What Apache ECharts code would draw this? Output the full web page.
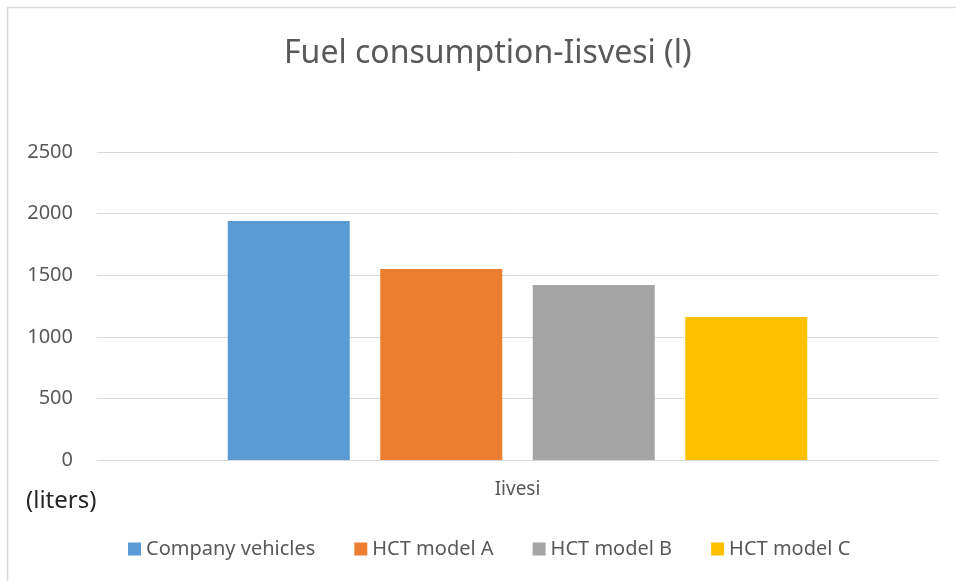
<!DOCTYPE html>
<html>
<head>
<meta charset="utf-8">
<script src="https://cdn.jsdelivr.net/npm/echarts@6/dist/echarts.min.js"></script>
<style>
  html, body { margin: 0; padding: 0; background: #fff; }
  #chart { width: 956px; height: 581px; }
</style>
</head>
<body>
<div id="chart"></div>
<script>
// data
const categories = ['Iivesi'];
const seriesNames = ['Company vehicles', 'HCT model A', 'HCT model B', 'HCT model C'];
const seriesValues = [1940, 1550, 1420, 1160];
const colors = ['#5b9bd5', '#ed7d31', '#a5a5a5', '#ffc000'];

const chart = echarts.init(document.getElementById('chart'));
const font = 'Noto Sans, sans-serif';

const option = {
  animation: false,
  color: colors,
  title: {
    text: 'Fuel consumption-Iisvesi (l)',
    left: 279,
    top: 33,
    textStyle: { fontFamily: font, fontSize: 32, fontWeight: 'normal', color: '#595959' },
  },
  legend: {
    left: 123,
    top: 534,
    itemWidth: 13,
    itemHeight: 13,
    itemGap: 39,
    icon: 'rect',
    textStyle: { fontFamily: font, fontSize: 20, color: '#595959' },
    data: seriesNames,
  },
  grid: { left: 97, right: 18, top: 152, bottom: 121 },
  xAxis: {
    type: 'category',
    data: categories,
    axisLine: { lineStyle: { color: '#d9d9d9' } },
    axisTick: { show: false },
    axisLabel: { fontFamily: font, fontSize: 19, color: '#595959', margin: 20 },
  },
  yAxis: {
    type: 'value',
    min: 0,
    max: 2500,
    interval: 500,
    splitLine: { lineStyle: { color: '#d9d9d9' } },
    axisLabel: {
      fontFamily: font, fontSize: 20, color: '#595959', margin: 24,
      formatter: (v) => String(v),
    },
  },
  graphic: [
    {
      type: 'rect',
      shape: { x: 7.5, y: 7.5, width: 1000, height: 1000 },
      style: { fill: 'none', stroke: '#d9d9d9', lineWidth: 1.5 },
    },
    {
      type: 'text',
      left: 26,
      top: 489,
      style: { text: '(liters)', fontFamily: font, fontSize: 24, fill: '#262626' },
    },
  ],
  series: seriesNames.map((name, i) => ({
    name,
    type: 'bar',
    barWidth: 122,
    barGap: '25%',
    data: [seriesValues[i]],
  })),
};

chart.setOption(option);
</script>
</body>
</html>
